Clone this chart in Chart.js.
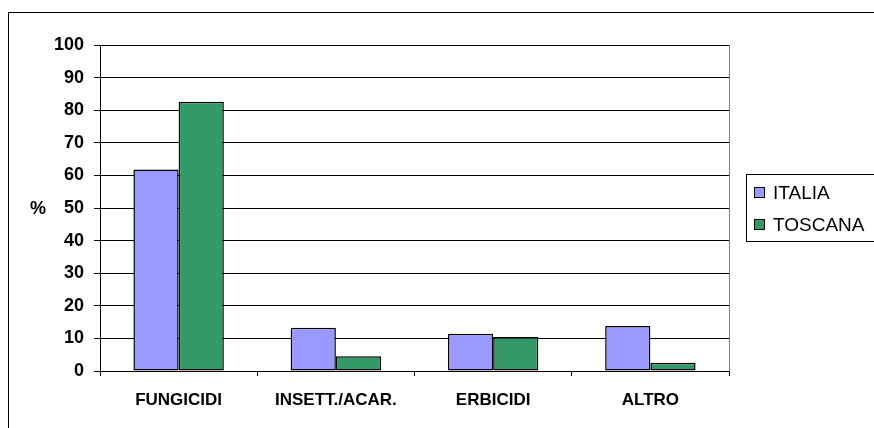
<!DOCTYPE html>
<html>
<head>
<meta charset="utf-8">
<script src="https://cdn.jsdelivr.net/npm/chart.js@4/dist/chart.umd.min.js"></script>
<style>
  html, body { margin: 0; padding: 0; background: #fff; }
  canvas { display: block; }
</style>
</head>
<body>
<canvas id="chart" width="874" height="428"></canvas>
<script>
// Pesticide use by category, Italia vs Toscana (%)
const categories = ['FUNGICIDI', 'INSETT./ACAR.', 'ERBICIDI', 'ALTRO'];
const italia = [61.8, 13.3, 11.4, 13.8];
const toscana = [82.6, 4.5, 10.4, 2.5];
const yTicks = [0, 10, 20, 30, 40, 50, 60, 70, 80, 90, 100];
const seriesNames = ['ITALIA', 'TOSCANA'];

const FONT = '"Liberation Sans", Arial, sans-serif';

// frame, "%" label, plot right border and legend box
const decorations = {
    id: 'decorations',
    afterDraw(chart) {
        const ctx = chart.ctx;
        const area = chart.chartArea;
        ctx.save();
        // outer frame
        ctx.strokeStyle = '#000';
        ctx.lineWidth = 1;
        ctx.strokeRect(8.5, 12.5, 900, 500);
        // plot right border
        ctx.strokeStyle = '#808080';
        ctx.beginPath();
        ctx.moveTo(Math.round(area.right) + 0.5, area.top);
        ctx.lineTo(Math.round(area.right) + 0.5, area.bottom);
        ctx.stroke();
        // "%" label
        ctx.fillStyle = '#000';
        ctx.font = 'bold 18px ' + FONT;
        ctx.textAlign = 'center';
        ctx.textBaseline = 'middle';
        ctx.fillText('%', 38, 209);
        // legend
        ctx.strokeStyle = '#000';
        ctx.strokeRect(746.5, 174.5, 200, 67);
        ctx.font = '19px ' + FONT;
        ctx.textAlign = 'left';
        chart.data.datasets.forEach((ds, i) => {
            const y = 193 + i * 32;
            ctx.fillStyle = ds.backgroundColor;
            ctx.fillRect(754.5, y - 5.5, 10, 10);
            ctx.strokeStyle = '#000';
            ctx.strokeRect(754.5, y - 5.5, 10, 10);
            ctx.fillStyle = '#000';
            ctx.fillText(ds.label, 773, y + 1);
        });
        ctx.restore();
    }
};

new Chart(document.getElementById('chart'), {
    type: 'bar',
    data: {
        labels: categories,
        datasets: [
            { label: seriesNames[0], data: italia, backgroundColor: '#9999FF', borderColor: '#000', borderWidth: 1.5, borderSkipped: false },
            { label: seriesNames[1], data: toscana, backgroundColor: '#339966', borderColor: '#000', borderWidth: 1.5, borderSkipped: false }
        ]
    },
    options: {
        responsive: false,
        animation: false,
        layout: { padding: { top: 45, right: 145, bottom: 0, left: 0 } },
        plugins: { legend: { display: false }, tooltip: { enabled: false } },
        datasets: { bar: { categoryPercentage: 0.575, barPercentage: 1.0 } },
        scales: {
            x: {
                offset: true,
                grid: { display: true, drawOnChartArea: false, color: '#000', tickLength: 5 },
                border: { color: '#000', width: 1 },
                ticks: { color: '#000', font: { family: FONT, size: 17, weight: 'bold' }, padding: 14, maxRotation: 0 },
                afterFit(scale) { scale.height = 57; }
            },
            y: {
                min: 0,
                max: 100,
                afterBuildTicks(scale) { scale.ticks = yTicks.map(v => ({ value: v })); },
                grid: { color: '#000', tickLength: 6 },
                border: { color: '#000', width: 1 },
                ticks: { color: '#000', font: { family: FONT, size: 18, weight: 'bold' }, padding: 10 },
                afterFit(scale) { scale.width = 100; }
            }
        }
    },
    plugins: [decorations]
});
</script>
</body>
</html>
